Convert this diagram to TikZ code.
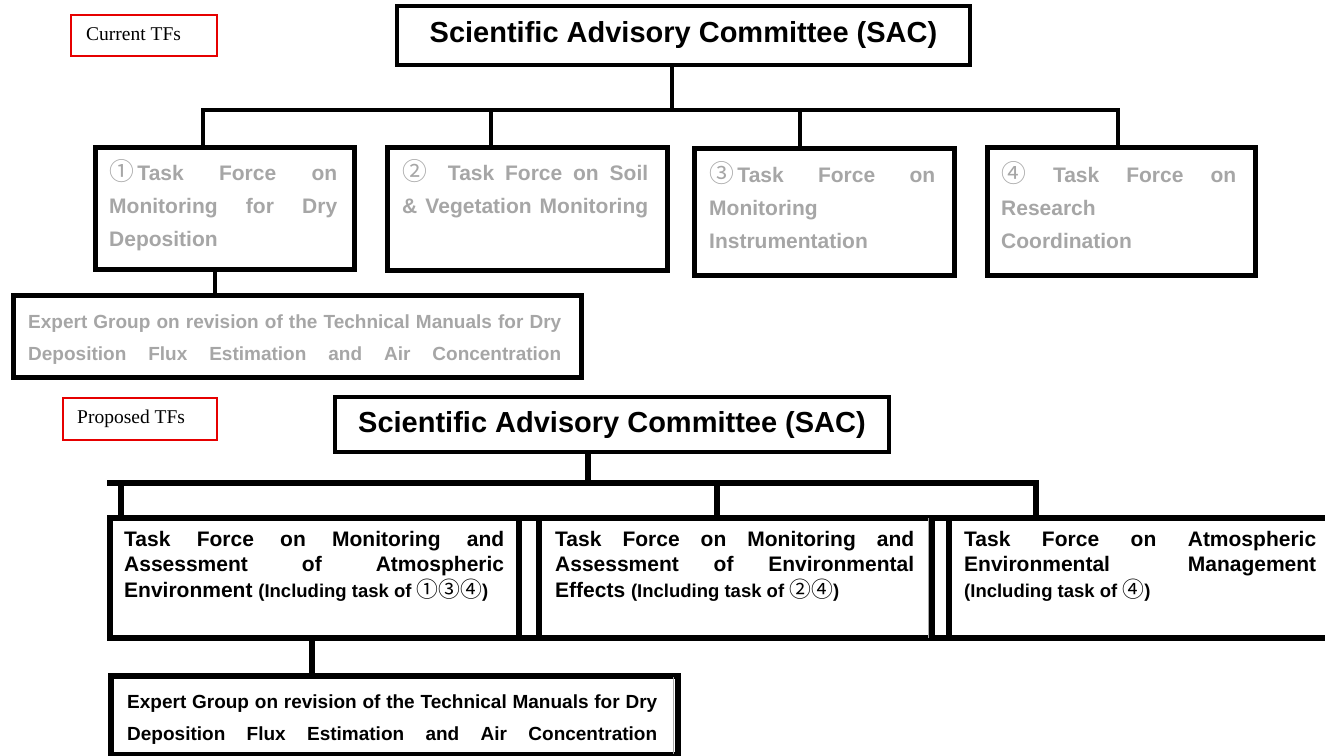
\documentclass[tikz,border=0pt]{standalone}
\usepackage{fontspec}
\setmainfont{Liberation Sans}
\newfontfamily\tfserif{Liberation Serif}
\newfontfamily\cjkcirc[Scale=1.18]{Noto Sans CJK JP}
\definecolor{tfgray}{RGB}{166,166,166}
\definecolor{tfred}{RGB}{230,0,0}
\newcommand\jl[2]{\makebox[#1][s]{#2}}
\newcommand\cn[1]{{\cjkcirc\mdseries #1}}
\tikzset{
  boxa/.style={draw=black, line width=4.5pt, inner sep=0pt, anchor=north west},
  boxb/.style={draw=black, line width=5.5pt, inner sep=0pt, anchor=north west},
  sacbox/.style={draw=black, line width=4.5pt, inner sep=0pt, font=\fontsize{29}{34}\selectfont\bfseries},
  redbox/.style={draw=tfred, line width=1.6pt, inner sep=0pt, anchor=north west},
  redtext/.style={inner sep=0pt, anchor=base west, font=\fontsize{19.5}{22}\tfserif},
  gtext/.style={inner sep=0pt, anchor=base west, text=tfgray, font=\fontsize{21}{33}\selectfont\bfseries},
  gexp/.style={inner sep=0pt, anchor=base west, text=tfgray, font=\fontsize{19}{32}\selectfont\bfseries},
  btext/.style={inner sep=0pt, anchor=base west, text=black, font=\fontsize{21}{25.5}\selectfont\bfseries},
  bexp/.style={inner sep=0pt, anchor=base west, text=black, font=\fontsize{19}{32}\selectfont\bfseries},
  conn/.style={draw=black, line width=4pt},
  connb/.style={draw=black, line width=5.5pt},
  thinline/.style={draw=gray!70, line width=0.8pt}
}
\newcommand\smallinc[1]{{\fontsize{18.5}{25.5}\selectfont #1}}
\begin{document}
\begin{tikzpicture}[x=1pt,y=-1pt]
\useasboundingbox (0,0) rectangle (1325,755);
\clip (0,0) rectangle (1325,755);
\fill[white] (0,0) rectangle (1325,755);

% ---------------- Current TFs ----------------
\node[redbox, minimum width=146, minimum height=41] (cur) at (70,14) {};
\node[redtext] (curt) at (86,40) {Current TFs};

\node[sacbox, minimum width=573, minimum height=59] (sac1) at (683.5,35.5) {Scientific Advisory Committee (SAC)};

\node[boxa, minimum width=259, minimum height=122] (tf1) at (93,145) {};
\node[boxa, minimum width=280, minimum height=123] (tf2) at (385,145) {};
\node[boxa, minimum width=260, minimum height=127] (tf3) at (692,146) {};
\node[boxa, minimum width=268, minimum height=128] (tf4) at (985,145) {};
\node[boxa, minimum width=568, minimum height=82] (eg1) at (11,293) {};

\node[gtext] (tf1t) at (109,180) {\parbox[t]{228pt}{\jl{228pt}{\cn{①}\,Task Force on}\\ \jl{228pt}{Monitoring for Dry}\\ Deposition}};
\node[gtext] (tf2t) at (402,180) {\parbox[t]{246pt}{\jl{246pt}{\cn{②}\quad Task Force on Soil}\\ \jl{246pt}{\& Vegetation Monitoring}}};
\node[gtext] (tf3t) at (709,182) {\parbox[t]{226pt}{\jl{226pt}{\cn{③}\,Task Force on}\\ Monitoring\\ Instrumentation}};
\node[gtext] (tf4t) at (1001,182) {\parbox[t]{235pt}{\jl{235pt}{\cn{④} Task Force on}\\ Research\\ Coordination}};
\node[gexp] (eg1t) at (28,328) {\parbox[t]{533pt}{\jl{533pt}{Expert Group on revision of the Technical Manuals for Dry}\\ \jl{533pt}{Deposition Flux Estimation and Air Concentration}}};

\coordinate (m1) at (672,110);
\coordinate (l1) at (203,110);
\coordinate (r1) at (1118,110);
\coordinate (d2) at (491,110);
\coordinate (d3) at (800,110);
\coordinate (e1) at (215,280);
\draw[conn] (sac1.south -| m1) -- (m1);
\draw[conn] (tf1.north -| l1) -- (l1) -- (r1) -- (tf4.north -| r1);
\draw[conn] (d2) -- (d2 |- tf2.north);
\draw[conn] (d3) -- (d3 |- tf3.north);
\draw[conn] (tf1.south -| e1) -- (eg1.north -| e1);

% ---------------- Proposed TFs ----------------
\node[redbox, minimum width=154, minimum height=42] (pro) at (62,397) {};
\node[redtext] (prot) at (77,423) {Proposed TFs};

\node[sacbox, minimum width=554, minimum height=55] (sac2) at (612,424.5) {Scientific Advisory Committee (SAC)};

\node[boxb, minimum width=409, minimum height=120] (tfA) at (107,515) {};
\node[boxb, minimum width=20, minimum height=120] (gapA) at (516,515) {};
\node[boxb, minimum width=393, minimum height=120] (tfB) at (536,515) {};
\node[boxb, minimum width=17, minimum height=120] (gapB) at (929,515) {};
\node[boxb, minimum width=400, minimum height=120] (tfC) at (946,515) {};
\node[boxb, minimum width=567, minimum height=79] (eg2) at (108,673) {};

\draw[thinline] ([xshift=-6pt,yshift=-3pt]tfB.north east) -- ([xshift=-6pt,yshift=3pt]tfB.south east);
\draw[thinline] ([xshift=-7pt,yshift=-4pt]eg2.north east) -- ([xshift=-7pt,yshift=4pt]eg2.south east);

\node[btext] (tfAt) at (124,546) {\parbox[t]{380pt}{\jl{380pt}{Task Force on Monitoring and}\\ \jl{380pt}{Assessment of Atmospheric}\\ Environment \smallinc{(Including task of \cn{①③④})}}};
\node[btext] (tfBt) at (555,546) {\parbox[t]{359pt}{\jl{359pt}{Task Force on Monitoring and}\\ \jl{359pt}{Assessment of Environmental}\\ Effects \smallinc{(Including task of \cn{②④})}}};
\node[btext] (tfCt) at (964,546) {\parbox[t]{352pt}{\jl{352pt}{Task Force on Atmospheric}\\ \jl{352pt}{Environmental Management}\\ \smallinc{(Including task of \cn{④})}}};
\node[bexp] (eg2t) at (127,708) {\parbox[t]{530pt}{\jl{530pt}{Expert Group on revision of the Technical Manuals for Dry}\\ \jl{530pt}{Deposition Flux Estimation and Air Concentration}}};

\coordinate (m2) at (588,483);
\coordinate (l2) at (107,483);
\coordinate (r2) at (1036,483);
\coordinate (a2) at (121,483);
\coordinate (b2) at (717,483);
\coordinate (e2) at (312,650);
\draw[connb] (sac2.south -| m2) -- (m2);
\draw[connb] (l2) -- (r2) -- (r2 |- tfC.north);
\draw[connb] (a2) -- (a2 |- tfA.north);
\draw[connb] (b2) -- (b2 |- tfB.north);
\draw[connb] (tfA.south -| e2) -- (eg2.north -| e2);
\end{tikzpicture}
\end{document}
